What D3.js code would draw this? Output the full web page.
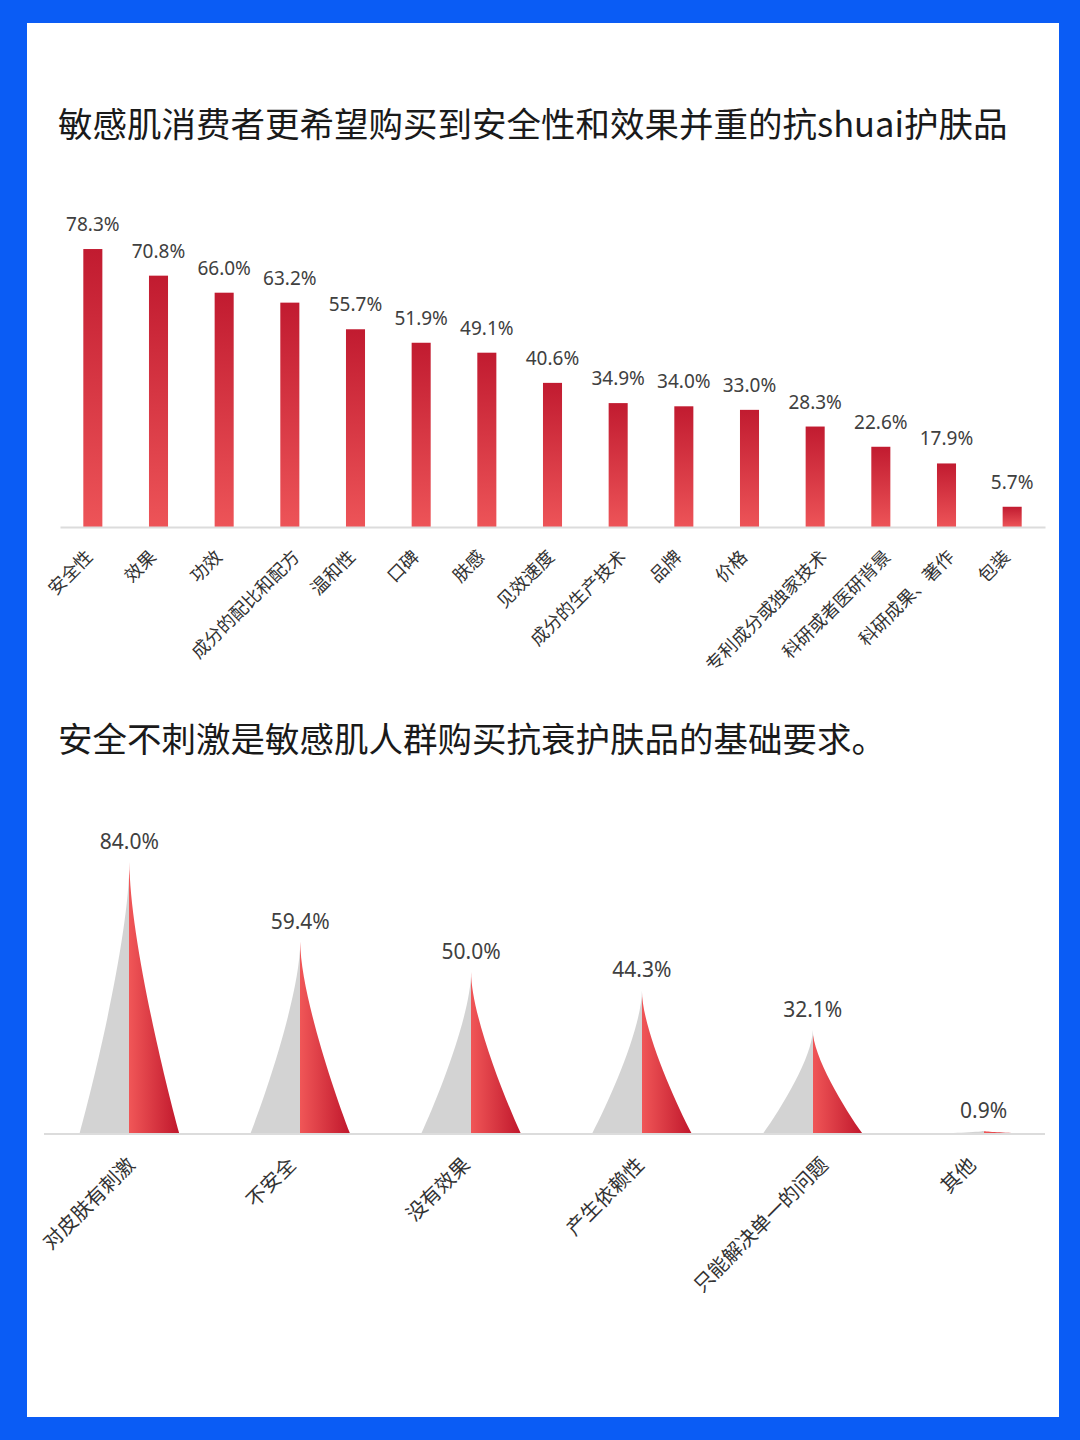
<!DOCTYPE html>
<html>
<head>
<meta charset="utf-8">
<script src="https://cdn.jsdelivr.net/npm/d3@7"></script>
<style>
  body { margin: 0; background: #fff; }
  svg { display: block; }
</style>
</head>
<body>
<div id="chart"></div>
<script>
// chart 1 data
const title1 = "敏感肌消费者更希望购买到安全性和效果并重的抗shuai护肤品";
const factors = ["安全性", "效果", "功效", "成分的配比和配方", "温和性", "口碑", "肤感", "见效速度",
  "成分的生产技术", "品牌", "价格", "专利成分或独家技术", "科研或者医研背景", "科研成果、著作", "包装"];
const factorShares = [78.3, 70.8, 66.0, 63.2, 55.7, 51.9, 49.1, 40.6, 34.9, 34.0, 33.0, 28.3, 22.6, 17.9, 5.7];

// chart 2 data
const title2 = "安全不刺激是敏感肌人群购买抗衰护肤品的基础要求。";
const concerns = ["对皮肤有刺激", "不安全", "没有效果", "产生依赖性", "只能解决单一的问题", "其他"];
const concernShares = [84.0, 59.4, 50.0, 44.3, 32.1, 0.9];

const W = 1080, H = 1440;
const fontCJK = "'Noto Sans CJK SC', 'Noto Sans', sans-serif";
const fontNum = "'Noto Sans', 'DejaVu Sans', sans-serif";

const svg = d3.select("#chart").append("svg")
  .attr("width", W)
  .attr("height", H);

const defs = svg.append("defs");

// vertical red gradient for bars
const barGrad = defs.append("linearGradient")
  .attr("id", "barGrad")
  .attr("x1", 0).attr("y1", 0).attr("x2", 0).attr("y2", 1);
barGrad.append("stop").attr("offset", "0%").attr("stop-color", "#c11b30");
barGrad.append("stop").attr("offset", "100%").attr("stop-color", "#ed5458");

// half gray / half red gradient for the peaks
const peakGrad = defs.append("linearGradient")
  .attr("id", "peakGrad")
  .attr("x1", 0).attr("y1", 0).attr("x2", 1).attr("y2", 0);
peakGrad.append("stop").attr("offset", "0%").attr("stop-color", "#d3d3d3");
peakGrad.append("stop").attr("offset", "50%").attr("stop-color", "#d3d3d3");
peakGrad.append("stop").attr("offset", "50%").attr("stop-color", "#f05657");
peakGrad.append("stop").attr("offset", "100%").attr("stop-color", "#c0172c");

// Frame
svg.append("rect").attr("width", W).attr("height", H).attr("fill", "#0a5cf5");
svg.append("rect")
  .attr("x", 27).attr("y", 23)
  .attr("width", 1032).attr("height", 1394)
  .attr("fill", "#ffffff");

// ---------- Chart 1: bars ----------
svg.append("text")
  .attr("x", 58).attr("y", 137)
  .style("font-family", fontCJK)
  .style("font-size", "34.5px")
  .attr("fill", "#1a1a1a")
  .text(title1);

const base1 = 527;
const x1 = d3.scaleBand()
  .domain(factors)
  .range([60, 1045])
  .paddingInner(0.71)
  .paddingOuter(0.355);

const y1 = d3.scaleLinear()
  .domain([0, 80])
  .range([base1, base1 - 284]);

const g1 = svg.append("g");

g1.selectAll(".bar")
  .data(factors)
  .join("rect")
  .attr("class", "bar")
  .attr("x", d => x1(d))
  .attr("y", (d, i) => y1(factorShares[i]))
  .attr("width", x1.bandwidth())
  .attr("height", (d, i) => base1 - y1(factorShares[i]))
  .attr("fill", "url(#barGrad)");

g1.selectAll(".label")
  .data(factors)
  .join("text")
  .attr("class", "label")
  .attr("x", d => x1(d) + x1.bandwidth() / 2)
  .attr("y", (d, i) => y1(factorShares[i]) - 18)
  .attr("text-anchor", "middle")
  .style("font-family", fontNum)
  .style("font-size", "19px")
  .attr("fill", "#404040")
  .text((d, i) => factorShares[i].toFixed(1) + "%");

const axis1 = g1.append("g")
  .attr("transform", `translate(0,${base1})`)
  .call(d3.axisBottom(x1).tickSize(0).tickPadding(0));
axis1.select(".domain").attr("stroke", "#dcdcdc").attr("stroke-width", 2);
// longer rotated labels sit a little further right of their tick
axis1.selectAll(".tick text")
  .attr("text-anchor", "end")
  .attr("dy", 0)
  .attr("y", 0)
  .attr("transform", d => `translate(${-5 + 2 * d.length},31) rotate(-45)`)
  .style("font-family", fontCJK)
  .style("font-size", "18px")
  .attr("fill", "#333");

// ---------- Chart 2: peaks ----------
svg.append("text")
  .attr("x", 58).attr("y", 752)
  .style("font-family", fontCJK)
  .style("font-size", "34.5px")
  .attr("fill", "#1a1a1a")
  .text(title2);

const base2 = 1134;
const x2 = d3.scaleBand()
  .domain(concerns)
  .range([44, 1069]);

const y2 = d3.scaleLinear()
  .domain([0, 90])
  .range([base2, base2 - 291.6]);

// concave spike: right side from peak down to base, mirrored on the left
const halfW = 50;
function peakPath(cx, top) {
  const h = base2 - top;
  return `M${cx - halfW},${base2}` +
    `C${cx - 0.625 * halfW},${base2 - 0.25 * h} ${cx},${base2 - 0.75 * h} ${cx},${top}` +
    `C${cx},${base2 - 0.75 * h} ${cx + 0.625 * halfW},${base2 - 0.25 * h} ${cx + halfW},${base2}Z`;
}

const g2 = svg.append("g");

g2.selectAll(".peak")
  .data(concerns)
  .join("path")
  .attr("class", "peak")
  .attr("d", (d, i) => peakPath(x2(d) + x2.bandwidth() / 2, y2(concernShares[i])))
  .attr("fill", "url(#peakGrad)");

g2.append("line")
  .attr("x1", 44).attr("x2", 1045)
  .attr("y1", base2).attr("y2", base2)
  .attr("stroke", "#dcdcdc")
  .attr("stroke-width", 2);

g2.selectAll(".label")
  .data(concerns)
  .join("text")
  .attr("class", "label")
  .attr("x", d => x2(d) + x2.bandwidth() / 2)
  .attr("y", (d, i) => y2(concernShares[i]) - 13)
  .attr("text-anchor", "middle")
  .style("font-family", fontNum)
  .style("font-size", "21px")
  .attr("fill", "#404040")
  .text((d, i) => concernShares[i].toFixed(1) + "%");

const axis2 = g2.append("g")
  .attr("transform", `translate(0,${base2})`)
  .call(d3.axisBottom(x2).tickSize(0).tickPadding(0));
axis2.select(".domain").remove();
axis2.selectAll(".tick text")
  .attr("text-anchor", "end")
  .attr("dy", 0)
  .attr("y", 0)
  .attr("transform", d => `translate(${-13 + 3.3 * d.length},32) rotate(-45)`)
  .style("font-family", fontCJK)
  .style("font-size", "20px")
  .attr("fill", "#333");
</script>
</body>
</html>
